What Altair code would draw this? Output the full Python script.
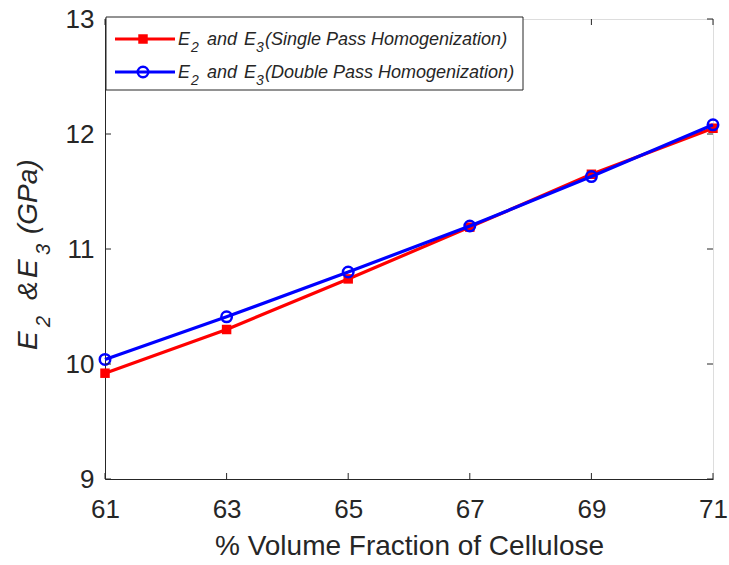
import altair as alt
import pandas as pd

x_vals = [61, 63, 65, 67, 69, 71]
single = [9.92, 10.30, 10.74, 11.19, 11.65, 12.05]
double = [10.04, 10.41, 10.80, 11.20, 11.63, 12.08]
series_names = ["Single", "Double"]
x_ticks = [61, 63, 65, 67, 69, 71]
y_ticks = [9, 10, 11, 12, 13]
legend_tails = ["(Single Pass Homogenization)", "(Double Pass Homogenization)"]
x_title = "% Volume Fraction of Cellulose"

W, H = 608, 460
FONT = "Liberation Sans"
AX = "#262626"
RED, BLUE = "#ff0000", "#0000ff"

df = pd.DataFrame({
    "x": x_vals * 2,
    "y": single + double,
    "s": [series_names[0]] * 6 + [series_names[1]] * 6,
})

xs = alt.Scale(domain=[61, 71], nice=False, zero=False)
ys = alt.Scale(domain=[9, 13], nice=False, zero=False)

xax = alt.Axis(values=x_ticks, format="d", title=x_title, grid=False,
               tickSize=0, labelPadding=17, labelFontSize=26, titleFontSize=28,
               labelFont=FONT, titleFont=FONT, titleFontWeight="normal",
               labelFlush=False, labelOverlap=False,
               labelColor=AX, titleColor=AX, domainColor=AX, titlePadding=10)
yax = alt.Axis(values=y_ticks, format="d", title=None, grid=False, tickSize=0,
               labelPadding=11, labelFontSize=26, labelFont=FONT,
               labelFlush=False, labelOverlap=False,
               labelColor=AX, domainColor=AX)

base = alt.Chart(df)
sdf = base.transform_filter(alt.datum.s == "Single")
ddf = base.transform_filter(alt.datum.s == "Double")

red_line = sdf.mark_line(strokeWidth=3.2, color=RED).encode(
    x=alt.X("x:Q", scale=xs, axis=xax), y=alt.Y("y:Q", scale=ys, axis=yax))
red_pts = sdf.mark_point(shape="square", filled=True, size=90, color=RED,
                         opacity=1).encode(
    x=alt.X("x:Q", scale=xs), y=alt.Y("y:Q", scale=ys))
blue_line = ddf.mark_line(strokeWidth=3.2, color=BLUE).encode(
    x=alt.X("x:Q", scale=xs), y=alt.Y("y:Q", scale=ys))
blue_pts = ddf.mark_point(shape="circle", filled=False, size=110, strokeWidth=2.5,
                          color=BLUE, opacity=1).encode(
    x=alt.X("x:Q", scale=xs), y=alt.Y("y:Q", scale=ys))

# inward ticks
xt = pd.DataFrame({"v": x_ticks})
yt = pd.DataFrame({"v": y_ticks})
tick_b = alt.Chart(xt).mark_rule(color=AX, strokeWidth=1).encode(
    x=alt.X("v:Q", scale=xs), y=alt.value(H), y2=alt.value(H - 6))
tick_t = alt.Chart(xt).mark_rule(color=AX, strokeWidth=1).encode(
    x=alt.X("v:Q", scale=xs), y=alt.value(0), y2=alt.value(6))
tick_l = alt.Chart(yt).mark_rule(color=AX, strokeWidth=1).encode(
    y=alt.Y("v:Q", scale=ys), x=alt.value(0), x2=alt.value(6))
tick_r = alt.Chart(yt).mark_rule(color=AX, strokeWidth=1).encode(
    y=alt.Y("v:Q", scale=ys), x=alt.value(W), x2=alt.value(W - 6))

one = pd.DataFrame({"a": [0]})


def txt(s, x, y, size, angle=0, style="italic"):
    return alt.Chart(one).mark_text(
        text=s, align="left", baseline="alphabetic", font=FONT, fontSize=size,
        fontStyle=style, color=AX, angle=angle).encode(
        x=alt.value(x), y=alt.value(y))


# y title built from pieces (with real subscripts), rotated
YB = -68   # baseline x for main text
ytitle = [
    txt("E", YB, 331, 28, 270),
    txt("2", YB + 13, 308, 20, 270),
    txt("&", YB, 281, 28, 270),
    txt("E", YB, 259, 28, 270),
    txt("3", YB + 13, 236, 20, 270),
    txt("(GPa)", YB, 215, 28, 270),
]

# legend
leg = [alt.Chart(one).mark_rect(fill="white", stroke=AX, strokeWidth=1).encode(
    x=alt.value(1), x2=alt.value(418), y=alt.value(-2), y2=alt.value(71))]
rows = [20, 53]
for i, col in enumerate([RED, BLUE]):
    ly = rows[i]
    leg.append(alt.Chart(one).mark_rule(color=col, strokeWidth=3.2).encode(
        x=alt.value(10), x2=alt.value(70), y=alt.value(ly)))
    if i == 0:
        leg.append(alt.Chart(one).mark_point(shape="square", filled=True, size=90,
                                             color=col, opacity=1).encode(
            x=alt.value(38), y=alt.value(ly)))
    else:
        leg.append(alt.Chart(one).mark_point(shape="circle", filled=False, size=110,
                                             strokeWidth=2.5, color=col,
                                             opacity=1).encode(
            x=alt.value(38), y=alt.value(ly)))
    tb = ly + 6
    leg += [
        txt("E", 73, tb, 18),
        txt("2", 86, tb + 7, 14),
        txt("and", 102, tb, 18),
        txt("E", 139, tb, 18),
        txt("3", 151, tb + 7, 14),
        txt(legend_tails[i], 160, tb, 18),
    ]

chart = alt.layer(red_line, red_pts, blue_line, blue_pts, tick_b, tick_t, tick_l,
                  tick_r, *ytitle, *leg).properties(
    width=W, height=H,
    autosize=alt.AutoSizeParams(type="none"),
    padding={"left": 105, "top": 19, "right": 16, "bottom": 86},
).configure_view(stroke=AX, strokeWidth=1).configure(background="white")

chart.save("out.html", embed_options={"renderer": "svg", "actions": False})
